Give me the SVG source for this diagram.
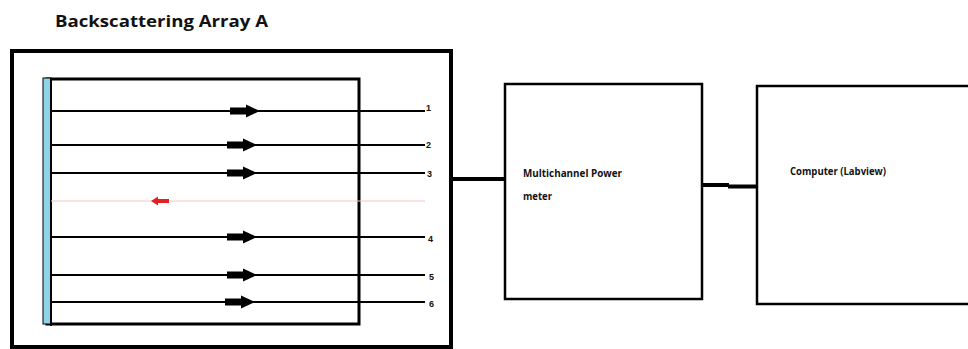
<svg xmlns="http://www.w3.org/2000/svg" width="968" height="349" viewBox="0 0 968 349">
<style>
.box{fill:none;stroke:#000}
.fib{stroke:#000;stroke-width:2}
.lbl{font-family:"Liberation Sans",Arial,sans-serif;font-weight:bold;font-size:9px;fill:#111}
.txt{font-family:"Open Sans","Liberation Sans",Arial,sans-serif;font-weight:bold;font-size:10.5px;fill:#111}
.conn{stroke:#000;fill:none}
</style>
<defs>
<path id="arr" d="M0,-3.5 H16 V-6.5 L30,0 L16,6.5 V3.5 H0 Z" fill="#000"/>
</defs>
<rect width="968" height="349" fill="#fff"/>
<text x="55" y="27" font-family="'Open Sans','Liberation Sans',Arial,sans-serif" font-weight="bold" font-size="16" textLength="213" lengthAdjust="spacingAndGlyphs" fill="#111">Backscattering Array A</text>
<g id="array-a">
<rect class="box" x="12" y="51" width="439" height="296" stroke-width="4"/>
<rect class="box" x="47" y="79" width="312" height="245" stroke-width="3"/>
<rect x="43" y="78" width="8" height="246" fill="#8fd3e8" stroke="#000" stroke-width="1"/>
<line x1="51" y1="78" x2="51" y2="326" stroke="#000" stroke-width="2"/>
<g id="fiber-1"><line class="fib" x1="51" y1="111" x2="425" y2="111" stroke-width="2.5"/><use href="#arr" x="230" y="111"/><text class="lbl" x="426" y="111">1</text></g>
<g id="fiber-2"><line class="fib" x1="51" y1="145" x2="425" y2="145"/><use href="#arr" x="227" y="145"/><text class="lbl" x="426" y="148">2</text></g>
<g id="fiber-3"><line class="fib" x1="51" y1="173" x2="425" y2="173" stroke-width="1.5"/><use href="#arr" x="227" y="173"/><text class="lbl" x="427" y="177">3</text></g>
<g id="back-ray"><line x1="51" y1="201" x2="425" y2="201" stroke="#f7c6c6" stroke-width="1"/><path d="M169,199 H158 V196.5 L151,201 L158,205.5 V203 H169 Z" fill="#e62020"/></g>
<g id="fiber-4"><line class="fib" x1="51" y1="237" x2="425" y2="237" stroke-width="2.5"/><use href="#arr" x="227" y="237"/><text class="lbl" x="428" y="242">4</text></g>
<g id="fiber-5"><line class="fib" x1="51" y1="275" x2="425" y2="275" stroke-width="2.5"/><use href="#arr" x="227" y="275"/><text class="lbl" x="429" y="280">5</text></g>
<g id="fiber-6"><line class="fib" x1="51" y1="302" x2="425" y2="302" stroke-width="1.5"/><use href="#arr" x="225" y="302"/><text class="lbl" x="429" y="307">6</text></g>
</g>
<g id="power-meter">
<rect class="box" x="505" y="84" width="197" height="215" stroke-width="2.5"/>
<text class="txt" x="523" y="177" textLength="99" lengthAdjust="spacingAndGlyphs">Multichannel Power</text>
<text class="txt" x="523" y="200" textLength="29" lengthAdjust="spacingAndGlyphs">meter</text>
</g>
<g id="computer">
<rect class="box" x="757" y="86" width="220" height="218" stroke-width="2.5"/>
<text class="txt" x="790" y="175" textLength="96" lengthAdjust="spacingAndGlyphs">Computer (Labview)</text>
</g>
<g id="connectors">
<line class="conn" x1="451" y1="179" x2="505" y2="179" stroke-width="4"/>
<line class="conn" x1="702" y1="185" x2="729" y2="185" stroke-width="4"/>
<line class="conn" x1="728" y1="186.5" x2="757" y2="186.5" stroke-width="4"/>
</g>
</svg>
